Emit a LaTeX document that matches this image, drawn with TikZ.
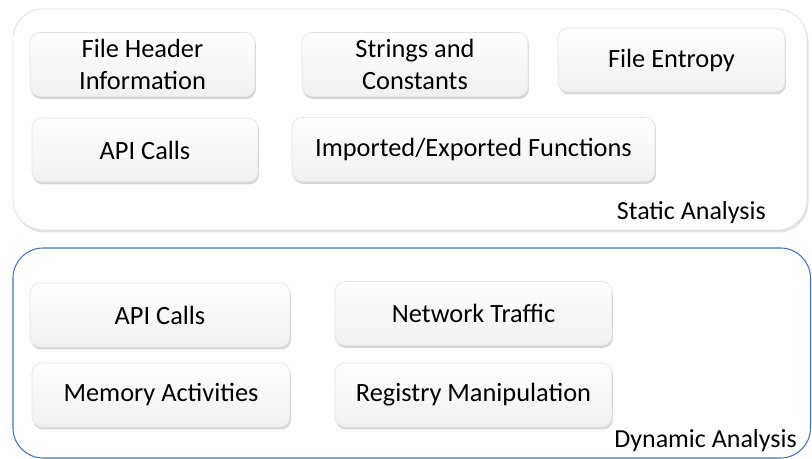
\documentclass[tikz,border=0pt]{standalone}
\usepackage{fontspec}
\setmainfont{Carlito}
\usetikzlibrary{shadows}
\definecolor{panelblue}{RGB}{68,114,196}
\begin{document}
\begin{tikzpicture}[x=0.02cm,y=-0.02cm,
		panel/.style={rounded corners=0.6cm,fill=white},
		item/.style={rounded corners=0.2cm,draw=gray!20,top color=white,bottom color=gray!12,
			drop shadow={shadow xshift=0.02cm,shadow yshift=-0.05cm,opacity=0.45,fill=gray!70},
			minimum height=1.28cm,align=center,font=\fontsize{15}{17.8}\selectfont},
		caption/.style={anchor=base east,font=\fontsize{14.8}{17}\selectfont}]
		\useasboundingbox (0,0) rectangle (812,459);
		% static analysis
		\draw[panel,draw=gray!25,drop shadow={shadow xshift=0.03cm,shadow yshift=-0.05cm,opacity=0.35,fill=gray!60}] (13,9) rectangle (807,230);
		\node[item,minimum width=4.5cm] (fhead) at (142.5,64.5) {File Header\\Information};
		\node[item,minimum width=4.52cm] (strconst) at (415,64.5) {Strings and\\Constants};
		\node[item,minimum width=4.54cm] (entropy) at (671.5,60) {File Entropy};
		\node[item,minimum width=4.52cm] (sapi) at (145,150) {API Calls};
		\node[item,minimum width=7.26cm] (impexp) at (473.5,149.5) {Imported/Exported Functions};
		\node[caption] (static) at (772,220) {Static Analysis};
		% dynamic analysis
		\draw[panel,draw=panelblue,line width=0.6pt] (13,248) rectangle (810.5,458);
		\node[item,minimum width=5.2cm] (dapi) at (160,315) {API Calls};
		\node[item,minimum width=5.16cm] (memory) at (161,395) {Memory Activities};
		\node[item,minimum width=5.54cm] (network) at (473.5,313.5) {Network Traffic};
		\node[item,minimum width=5.54cm] (registry) at (473.5,395) {Registry Manipulation};
		\node[caption] (dynamic) at (803,447) {Dynamic Analysis};
	\end{tikzpicture}
\end{document}
